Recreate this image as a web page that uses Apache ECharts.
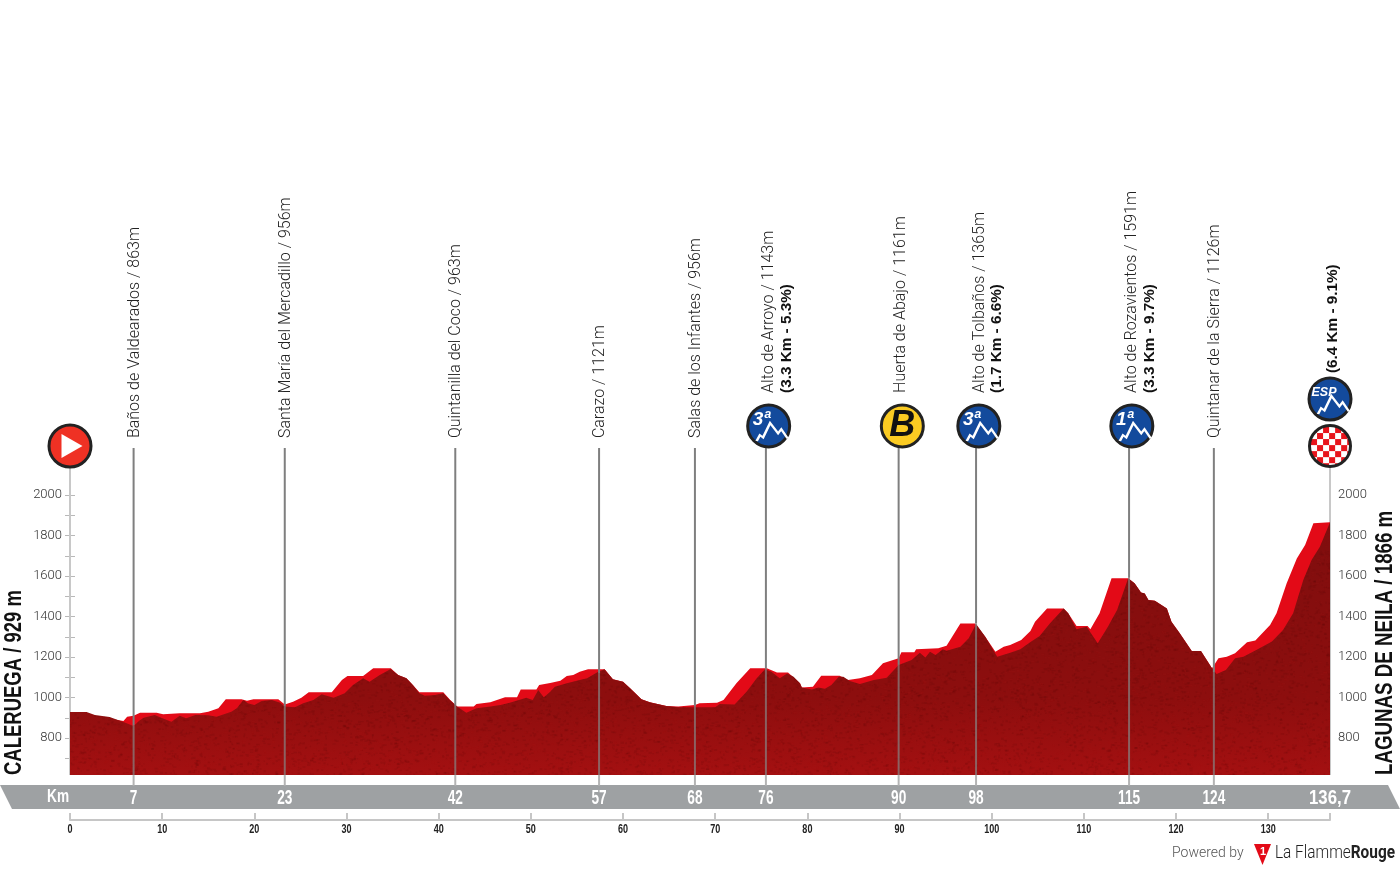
<!DOCTYPE html>
<html><head><meta charset="utf-8">
<style>html,body{margin:0;padding:0;background:#fff}#c{width:1400px;height:870px}</style>
<script src="https://cdn.jsdelivr.net/npm/echarts@6/dist/echarts.min.js"></script>
</head><body><div id="c"></div>
<script>
// Front (dark) elevation profile: [km, metres]
const profileFront = [[0,929],[1.8,928],[2.7,914],[4.3,904],[5.8,879],[6.9,859],[7.5,885],[8.0,900],[9.2,914],[9.9,900],[11.0,880],[11.9,910],[12.6,897],[13.6,914],[15.0,912],[15.9,905],[17.5,930],[18.1,947],[18.8,988],[19.3,971],[20.0,963],[20.8,983],[21.9,988],[22.8,974],[23.3,955],[24.4,952],[25.3,971],[26.4,988],[27.3,1016],[28.6,999],[29.8,1021],[30.7,1062],[31.8,1095],[32.5,1078],[33.6,1111],[34.8,1141],[35.6,1111],[36.5,1095],[37.2,1062],[37.9,1021],[38.5,1009],[39.6,1012],[40.5,1021],[41.2,988],[42.0,955],[43.0,925],[44.1,947],[45.6,955],[46.7,963],[47.7,974],[49.5,999],[50.2,988],[50.8,1037],[51.4,1001],[52.1,1029],[52.6,1053],[53.9,1070],[55.3,1086],[56.1,1095],[57.3,1127],[58.0,1139],[58.9,1090],[60.0,1078],[60.8,1045],[62.0,991],[62.9,976],[64.7,958],[66.0,952],[67.8,952],[70.0,952],[70.5,968],[72.1,966],[73.4,1029],[74.5,1095],[75.4,1139],[76.1,1127],[77.0,1095],[77.8,1119],[78.5,1103],[79.2,1070],[79.4,1050],[80.5,1040],[81.2,1050],[81.9,1043],[82.6,1062],[83.4,1103],[83.9,1103],[84.6,1081],[85.7,1067],[87.2,1086],[88.6,1098],[89.9,1160],[91.3,1185],[92.2,1221],[92.8,1197],[93.3,1226],[93.9,1210],[94.7,1238],[95.1,1231],[96.6,1251],[97.5,1292],[98.3,1363],[99.3,1300],[100.6,1201],[102.0,1221],[103.1,1238],[104.2,1274],[105.2,1304],[106.3,1366],[107.8,1440],[108.3,1416],[109.2,1337],[110.3,1350],[111.5,1268],[112.6,1350],[113.6,1432],[114.8,1589],[115.5,1564],[116.2,1519],[116.6,1514],[117.0,1481],[117.7,1478],[119.0,1440],[119.5,1374],[120.4,1317],[121.7,1230],[122.7,1230],[123.9,1144],[124.4,1116],[125.4,1136],[126.4,1194],[127.3,1201],[128.7,1235],[130.4,1276],[131.6,1333],[132.7,1416],[133.8,1580],[134.7,1679],[135.6,1745],[136.7,1866]];
// Rear (bright) elevation profile: [km, metres]
const profileRear = [[0,929],[5.8,884],[6.2,905],[6.9,910],[7.6,925],[9.4,925],[10.1,917],[11.9,922],[14.1,922],[15.0,930],[16.1,947],[16.9,991],[18.6,991],[19.2,984],[19.9,991],[22.6,991],[23.3,966],[24.2,979],[25.1,999],[25.9,1026],[28.4,1026],[29.5,1086],[30.1,1106],[31.8,1106],[32.9,1144],[34.8,1144],[35.6,1111],[36.5,1095],[37.2,1062],[37.9,1026],[40.5,1026],[41.2,990],[42.0,955],[43.8,955],[44.1,968],[45.6,976],[47.2,1001],[48.5,1001],[48.9,1040],[50.6,1040],[50.9,1062],[52.1,1072],[53.2,1083],[53.9,1106],[54.6,1111],[55.3,1127],[56.2,1139],[58.0,1139],[58.9,1090],[60.0,1078],[60.8,1045],[62.0,991],[62.9,976],[64.7,958],[66.0,955],[67.8,963],[68.3,971],[70.2,974],[70.9,988],[72.3,1070],[73.8,1144],[75.6,1144],[76.7,1124],[77.9,1124],[79.2,1070],[79.4,1050],[80.6,1053],[81.5,1108],[83.5,1108],[84.4,1086],[85.7,1095],[87.0,1111],[88.2,1169],[89.9,1194],[90.2,1223],[91.6,1223],[91.8,1238],[94.2,1243],[95.1,1256],[96.6,1366],[98.2,1366],[99.3,1300],[100.4,1226],[101.3,1251],[102.0,1259],[103.2,1284],[104.2,1328],[104.7,1374],[106.0,1440],[107.8,1440],[108.3,1416],[109.2,1353],[110.4,1353],[110.7,1337],[111.7,1416],[113.0,1589],[114.8,1589],[115.5,1564],[116.2,1519],[116.6,1514],[117.0,1481],[117.7,1478],[119.0,1440],[119.5,1374],[120.4,1317],[121.7,1230],[122.7,1230],[123.9,1144],[124.0,1152],[124.6,1194],[125.5,1201],[126.4,1218],[127.7,1273],[128.6,1281],[130.2,1358],[130.9,1416],[132.0,1564],[133.1,1687],[134.0,1753],[134.9,1860],[136.7,1866]];

// Waypoints
const markerKm   = [6.9, 23.3, 41.8, 57.4, 67.8, 75.5, 89.9, 98.3, 114.9, 124.1];
const markerElev = [863, 956, 963, 1121, 956, 1143, 1161, 1365, 1591, 1126];
const markerKmLabels = ['7','23','42','57','68','76','90','98','115','124'];
const markerNames = ['Baños de Valdearados / 863m','Santa María del Mercadillo / 956m','Quintanilla del Coco / 963m','Carazo / 1121m','Salas de los Infantes / 956m','Alto de Arroyo / 1143m','Huerta de Abajo / 1161m','Alto de Tolbaños / 1365m','Alto de Rozavientos / 1591m','Quintanar de la Sierra / 1126m'];
const nameKm = [7.0, 23.4, 41.9, 57.5, 67.9, 75.8, 90.2, 98.7, 115.2, 124.2];
const nameAnchor = [2281, 2281, 2281, 2281, 2281, 2504, 2504, 2504, 2504, 2281];
const climbNotes = [[77.8,2504,'(3.3 Km - 5.3%)'],[100.6,2504,'(1.7 Km - 6.6%)'],[117.2,2504,'(3.3 Km - 9.7%)'],[137.0,2602,'(6.4 Km - 9.1%)']];
// Icons: [km, height]
const catIcons = [[75.8,2341,'3ª'],[98.6,2341,'3ª'],[115.2,2341,'1ª'],[136.7,2474,'ESP']];
const bonusIcon = [[90.3,2341,'B']];
const startIcon = [[0,2242]];
const finishIcon = [[136.7,2242]];
const finishKm = 136.7, finishLabel = '136,7';
const scaleKm = [0,10,20,30,40,50,60,70,80,90,100,110,120,130];
const elevLabels = [800,1000,1200,1400,1600,1800,2000];
const elevTicks = [700,800,900,1000,1100,1200,1300,1400,1500,1600,1700,1800,1900,2000];
const baseElev = 617, lineTop = 2232, bandTop = 565, axisTop = 2240;
const bandLabelHeight = 500, scaleLabelHeight = 351;

const BOLD = '"Liberation Sans",Arial,sans-serif';
const LIGHT = 'Roboto,sans-serif';

function checker(){
  const s=88,c=document.createElement('canvas');c.width=c.height=s;const g=c.getContext('2d');
  g.beginPath();g.arc(s/2,s/2,s/2-1,0,7);g.fillStyle='#fff';g.fill();g.save();g.clip();
  g.fillStyle='#e8141c';const q=s/7.3;
  for(let i=0;i<9;i++)for(let j=0;j<9;j++)if((i+j)%2==0)g.fillRect(i*q-q/2,j*q-q/2,q,q);
  g.restore();g.beginPath();g.arc(s/2,s/2,s/2-3,0,7);g.lineWidth=6;g.strokeStyle='#222';g.stroke();
  return 'image://'+c.toDataURL();
}
// Speckled dark-red terrain fill, deterministic speckles
function terrain(){
  const c=document.createElement('canvas');c.width=1400;c.height=870;const g=c.getContext('2d');
  const gr=g.createLinearGradient(0,520,0,775);
  gr.addColorStop(0,'#7f0e0e');gr.addColorStop(.7,'#8d0e0e');gr.addColorStop(1,'#a41011');
  g.fillStyle=gr;g.fillRect(0,0,1400,870);
  let s=12345;const nx=()=>{s=(s*48271)%2147483647;return s/2147483647;};
  for(let i=0;i<30000;i++){
    const x=nx()*1400,y=500+nx()*280,w=1+nx()*2.5,h=1+nx()*1.2;
    g.fillStyle=nx()<.6?'rgba(60,0,0,.09)':'rgba(190,30,30,.07)';
    g.fillRect(x,y,w,h);
  }
  return c;
}
const mountain='path://M0 52 L10 35 L20 42 L42 0 L67 30 L77 18 L97 45';

function vseg(name,data,color,z,w){
  return {name,type:'custom',z,silent:true,clip:false,data,encode:{x:0,y:[1,2]},
    renderItem:(p,api)=>{const a=api.coord([api.value(0),api.value(1)]),b=api.coord([api.value(0),api.value(2)]);
      return {type:'line',shape:{x1:a[0],y1:a[1],x2:b[0],y2:b[1]},style:{stroke:color,lineWidth:w||2}};}};
}
// Squeezed text placed through the axes (no condensed font is installed)
function squeezed(name,rows,font,fill,z,sx){
  return {name,type:'custom',z,silent:true,clip:false,data:rows,dimensions:[{name:'km',type:'number'},{name:'h',type:'number'},{name:'t',type:'ordinal'}],
    encode:{x:0,y:1},
    renderItem:(p,api)=>{const i=p.dataIndex,pt=api.coord([rows[i][0],rows[i][1]]),t=rows[i][2];
      return {type:'text',x:pt[0],y:pt[1],scaleX:sx(t),
        style:{text:t,fill,font,textAlign:'center',textVerticalAlign:'middle'}};}};
}
const bandRows=markerKm.map((k,i)=>[k,bandLabelHeight,markerKmLabels[i]]).concat([[finishKm,bandLabelHeight,finishLabel]]);
const scaleRows=scaleKm.map(k=>[k,scaleLabelHeight,String(k)]);

const iconCommon={type:'scatter',clip:false,silent:true};
const option={
  animation:false,
  grid:{left:70,right:70,top:171,bottom:81.375},
  xAxis:[
    {type:'value',min:0,max:finishKm,axisLine:{show:false},axisTick:{show:false},splitLine:{show:false},axisLabel:{show:false}},
    {type:'value',min:0,max:finishKm,position:'bottom',offset:31.4,splitLine:{show:false},
     axisLine:{show:true,onZero:false,lineStyle:{color:'#c6c6c6',width:2}},
     axisTick:{show:true,inside:true,length:7,lineStyle:{color:'#c6c6c6',width:2},customValues:scaleKm.concat([finishKm])},
     axisLabel:{show:false}}
  ],
  yAxis:[
    {type:'value',min:550,max:3600,interval:50,position:'left',axisLine:{show:false},splitLine:{show:false},
     axisTick:{show:true,length:5,lineStyle:{color:'#b8b8b8'},customValues:elevTicks},
     axisLabel:{customValues:elevLabels,margin:8,color:'#333',fontFamily:LIGHT,fontSize:13,fontWeight:300,formatter:v=>String(v)}},
    {type:'value',min:550,max:3600,interval:50,position:'right',axisLine:{show:false},splitLine:{show:false},
     axisTick:{show:true,length:5,lineStyle:{color:'#b8b8b8'},customValues:elevTicks},
     axisLabel:{customValues:elevLabels,margin:8,color:'#333',fontFamily:LIGHT,fontSize:13,fontWeight:300,formatter:v=>String(v)}}
  ],
  graphic:[
    {type:'polygon',z:-1,silent:true,shape:{points:[[0,785],[1388,785],[1400,809],[12,809]]},style:{fill:'#9ea1a3'}},
    {type:'text',x:47,y:797,z:5,scaleX:.76,style:{text:'Km',fill:'#fff',font:'bold 18px '+BOLD,textVerticalAlign:'middle'}},
    {type:'text',x:14,y:775,rotation:Math.PI/2,scaleX:.77,z:5,style:{text:'CALERUEGA / 929 m',fill:'#111',font:'bold 24px '+BOLD,textAlign:'left',textVerticalAlign:'middle'}},
    {type:'text',x:1385,y:775,rotation:Math.PI/2,scaleX:.78,z:5,style:{text:'LAGUNAS DE NEILA / 1866 m',fill:'#111',font:'bold 24px '+BOLD,textAlign:'left',textVerticalAlign:'middle'}},
    {type:'text',x:1172,y:846,z:5,style:{text:'Powered by',fill:'#555',font:'300 14px '+LIGHT}},
    {type:'polygon',z:5,silent:true,shape:{points:[[1254,844],[1271,844],[1262.5,865]]},style:{fill:'#e30a17'}},
    {type:'text',x:1260,y:846,z:6,style:{text:'1',fill:'#fff',font:'bold 11px '+BOLD}},
    {type:'text',x:1275,y:844,scaleX:.855,z:5,style:{rich:{a:{font:'300 18px '+LIGHT,fill:'#222'},b:{font:'bold 18px '+LIGHT,fill:'#222'}},text:'{a|La Flamme}{b|Rouge}'}}
  ],
  series:[
    vseg('axisLines',[[0,baseElev,axisTop],[finishKm,baseElev,axisTop]],'#c8c8c8',1),
    {name:'rear',type:'line',z:2,data:profileRear,showSymbol:false,silent:true,lineStyle:{width:0},
     areaStyle:{origin:baseElev,color:'#e30a17',opacity:1}},
    {name:'front',type:'line',z:3,data:profileFront,showSymbol:false,silent:true,lineStyle:{width:0},
     areaStyle:{origin:baseElev,opacity:1,color:{image:terrain(),repeat:'no-repeat'}}},
    vseg('linesAbove',markerKm.map((k,i)=>[k,markerElev[i],lineTop]),'#7f7f7f',4),
    vseg('linesInside',markerKm.map((k,i)=>[k,baseElev,markerElev[i]]),'rgba(135,125,125,.75)',4),
    vseg('linesGap',markerKm.map(k=>[k,bandTop,baseElev]),'#b4b4b4',4),
    squeezed('bandLabels',bandRows,'bold 19.5px '+BOLD,'#fff',6,t=>t.length>3?.86:.7),
    squeezed('scaleLabels',scaleRows,'bold 13.5px '+BOLD,'#222',6,()=>.67),
    {...iconCommon,name:'names',z:6,symbolSize:1,itemStyle:{color:'transparent',opacity:1},
     data:markerNames.map((n,i)=>({value:[nameKm[i],nameAnchor[i]],name:n})),
     label:{show:true,position:'inside',rotate:90,align:'left',verticalAlign:'middle',formatter:'{b}',color:'#222',fontFamily:LIGHT,fontWeight:300,fontSize:16}},
    {...iconCommon,name:'notes',z:6,symbolSize:1,itemStyle:{color:'transparent',opacity:1},
     data:climbNotes.map(c=>({value:[c[0],c[1]],name:c[2]})),
     label:{show:true,position:'inside',rotate:90,align:'left',verticalAlign:'middle',formatter:'{b}',color:'#111',fontFamily:BOLD,fontWeight:'bold',fontSize:15.3}},
    {...iconCommon,name:'catIcons',z:7,symbol:'circle',symbolSize:42,itemStyle:{color:'#134a9c',borderColor:'#222',borderWidth:3,opacity:1},
     data:catIcons.map(c=>({value:[c[0],c[1]],name:c[2],
       label:c[2]==='ESP'?{fontSize:12.5,offset:[-6,-6]}:{fontSize:19,offset:[-7,-6]}})),
     label:{show:true,position:'inside',formatter:'{b}',color:'#fff',fontStyle:'italic',fontWeight:'bold',fontFamily:BOLD}},
    {...iconCommon,name:'mountains',z:8,symbol:mountain,symbolSize:[31,18],symbolKeepAspect:false,symbolOffset:[3.5,6],
     itemStyle:{color:'rgba(0,0,0,0)',borderColor:'#fff',borderWidth:2,opacity:1},data:catIcons.map(c=>[c[0],c[1]])},
    {...iconCommon,name:'bonus',z:7,symbol:'circle',symbolSize:42,itemStyle:{color:'#fbcb22',borderColor:'#222',borderWidth:3,opacity:1},
     data:bonusIcon.map(c=>({value:[c[0],c[1]],name:c[2]})),
     label:{show:true,position:'inside',formatter:'{b}',color:'#111',fontStyle:'italic',fontWeight:'bold',fontSize:36,fontFamily:BOLD}},
    {...iconCommon,name:'start',z:7,symbol:'circle',symbolSize:42,itemStyle:{color:'#ef3124',borderColor:'#222',borderWidth:3,opacity:1},data:startIcon},
    {...iconCommon,name:'startArrow',z:8,symbol:'path://M0 0 L20 12 L0 24 Z',symbolSize:[21,24],symbolOffset:[2,0],itemStyle:{color:'#fff',opacity:1},data:startIcon},
    {...iconCommon,name:'finish',z:7,symbol:checker(),symbolSize:44,itemStyle:{opacity:1},data:finishIcon}
  ]
};
const chart=echarts.init(document.getElementById('c'),null,{renderer:'canvas'});
chart.setOption(option);
</script></body></html>
